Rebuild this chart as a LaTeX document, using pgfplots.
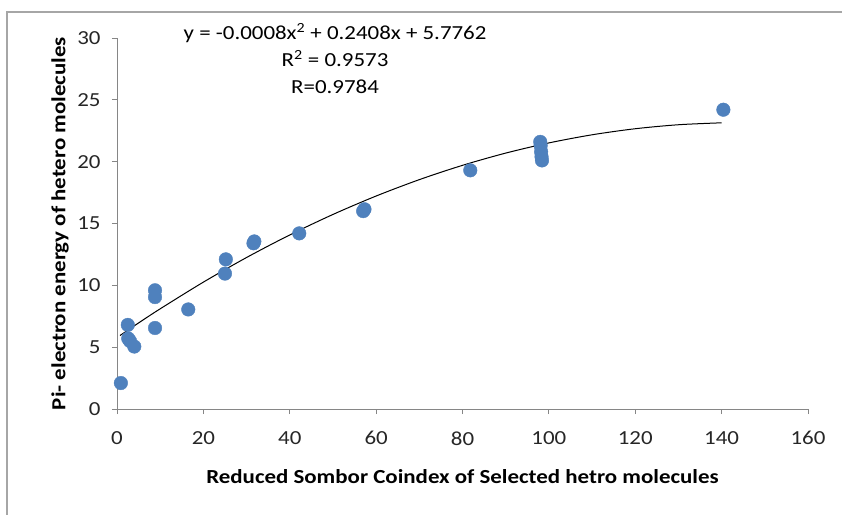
\documentclass[border=0pt]{standalone}
\usepackage{fontspec}
\setmainfont[FakeStretch=1.15]{Carlito}
\usepackage{pgfplots}
\pgfplotsset{compat=1.18}
\definecolor{ptblue}{RGB}{79,129,189}
\definecolor{axgray}{RGB}{134,134,134}
\begin{document}
\begin{tikzpicture}[x=1bp,y=1bp]
\path[use as bounding box] (-117bp,-106bp) rectangle (725bp,409bp);
\draw[gray!70, line width=1.2bp] (-110bp,-106bp) -- (-110bp,397bp) -- (725bp,397bp);
\begin{axis}[
  at={(0,0)}, anchor=origin,
  scale only axis, width=691bp, height=371bp,
  xmin=0, xmax=160, ymin=0, ymax=30,
  xtick={0,20,...,160}, ytick={0,5,...,30},
  axis x line*=bottom, axis y line*=left,
  axis line style={axgray, line width=0.9bp, -},
  tick style={axgray, line width=0.9bp},
  tick align=outside, major tick length=5bp,
  /pgf/number format/assume math mode=true,
  ticklabel style={font=\fontsize{20}{24}\selectfont, text=black!85},
  xticklabel style={yshift=-14bp},
  yticklabel style={xshift=-8bp},
  xlabel={\bfseries Reduced Sombor Coindex of Selected hetro molecules},
  ylabel={\bfseries Pi- electron energy of hetero molecules},
  xlabel style={font=\fontsize{20}{24}\selectfont, at={(axis description cs:0.5,-0.181)}, anchor=center},
  ylabel style={font=\fontsize{20}{24}\selectfont, at={(axis description cs:-0.0825,0.5)}, anchor=center},
  clip=false,
]
\addplot[only marks, mark=*, mark size=6.8bp, mark options={fill=ptblue, draw=ptblue}]
coordinates {
(0.9,2.1) (2.5,6.8) (2.6,5.7) (3.0,5.5) (4.0,5.05)
(8.8,6.55) (8.8,9.05) (8.8,9.6) (16.5,8.05)
(25.0,10.95) (25.2,12.1) (31.6,13.4) (31.8,13.55)
(42.2,14.2) (57.0,16.0) (57.3,16.15) (81.8,19.3)
(98.0,21.6) (98.1,21.3) (98.2,20.8) (98.3,20.4) (98.4,20.1)
(140.4,24.2)
};
\addplot[smooth, black, line width=1bp] coordinates {
(0.7,5.944) (5,6.959) (10,8.101) (20,10.259) (30,12.250) (40,14.074)
(50,15.731) (60,17.222) (70,18.546) (80,19.703) (90,20.693)
(100,21.516) (110,22.173) (120,22.663) (130,22.986) (140,23.142)
};
\node[font=\fontsize{20}{24}\selectfont, align=center, anchor=north, inner sep=0pt] at (axis cs:50.5,31.2)
 {y = -0.0008x\textsuperscript{2} + 0.2408x + 5.7762\\[3bp] R\textsuperscript{2} = 0.9573\\[3bp] R=0.9784};
\end{axis}
\end{tikzpicture}
\end{document}
